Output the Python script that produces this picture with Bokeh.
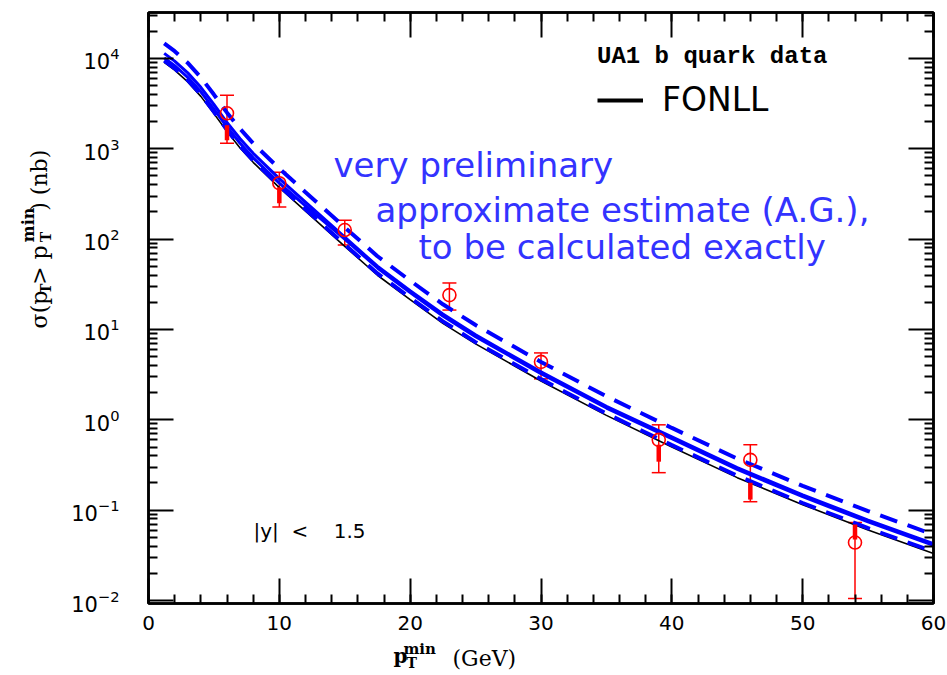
import math
from bokeh.plotting import figure
from bokeh.layouts import row, column
from bokeh.models import (LinearAxis, LogAxis, FixedTicker, SingleIntervalTicker, Range1d,
                          Whisker, TeeHead, ColumnDataSource, Label, CustomJSTickFormatter,
                          Legend, LegendItem)
from bokeh.embed import file_html
from bokeh.resources import INLINE

# ---------------- data ----------------
pt_grid = [1.2, 2, 3, 4, 5, 6, 7, 8, 10, 12, 15, 17.5, 20, 22.5, 25, 30, 35, 40, 45, 50, 55, 60]
fonll_central = [9040, 7410, 5500, 3800, 2450, 1550, 1020, 708, 372, 204, 83.2, 39.8, 21.4, 11.7,
                 6.92, 2.69, 1.12, 0.501, 0.229, 0.115, 0.0603, 0.0331]
blue_solid_a = [11380, 9330, 6920, 4790, 3090, 1950, 1290, 891, 468, 257, 105, 50.1, 26.9, 14.8,
                8.71, 3.39, 1.41, 0.646, 0.295, 0.148, 0.0776, 0.0427]
blue_solid_b = [10140, 8320, 6170, 4270, 2750, 1740, 1150, 794, 417, 234, 100, 47.9, 25.7, 14.1,
                8.32, 3.24, 1.35, 0.617, 0.282, 0.141, 0.0741, 0.0408]
blue_dash_up = [14660, 12020, 8910, 6170, 3980, 2510, 1660, 1150, 603, 331, 135, 64.6, 34.7, 19.0,
                11.2, 4.37, 1.82, 0.813, 0.372, 0.186, 0.0977, 0.0537]
blue_dash_lo = [9460, 7760, 5750, 3980, 2570, 1620, 1070, 741, 389, 214, 87.1, 41.7, 22.4, 12.3,
                7.24, 2.82, 1.17, 0.525, 0.240, 0.120, 0.0631, 0.0347]

data_pt = [6, 10, 15, 23, 30, 39, 46, 54]
data_sigma = [2470, 416, 126, 24.0, 4.38, 0.60, 0.36, 0.0438]
data_hi = [3900, 550, 162, 32.7, 5.5, 0.88, 0.53, 0.073]
data_lo = [1150, 226, 86, 16.4, 2.84, 0.26, 0.124, 0.0105]
thick_pt = [6, 10, 39, 46, 54]
thick_hi = [1820, 376, 0.530, 0.201, 0.0692]
thick_lo = [1240, 250, 0.344, 0.131, 0.0472]

y_major = [1e-2, 1e-1, 1e0, 1e1, 1e2, 1e3, 1e4]

# ---------------- layout (page pixels) ----------------
W, H = 947, 675
YT_W = 60            # strip on the left holding the y title
MAIN_H = 638         # main figure height; strip below holds the x title
FL, FR, FT, FB = 148, 933, 12, 603   # frame edges on the page
X0, X1 = 0, 60
LY0 = -2 - (FB - 600) / 90.5
LY1 = 4 + (58 - FT) / 90.5
Y0, Y1 = 10 ** LY0, 10 ** LY1


def dx(px):
    return X0 + (px - FL) * (X1 - X0) / (FR - FL)


def dy(py):
    return 10 ** (LY0 + (FB - py) * (LY1 - LY0) / (FB - FT))


p = figure(width=W - YT_W, height=MAIN_H, x_range=Range1d(X0, X1), y_range=Range1d(Y0, Y1),
           y_axis_type="log", output_backend="svg", toolbar_location=None,
           min_border_left=FL - YT_W, min_border_right=W - FR, min_border_top=FT,
           min_border_bottom=MAIN_H - FB)
p.xgrid.visible = False
p.ygrid.visible = False
p.outline_line_color = "black"
p.outline_line_width = 2.5
p.background_fill_color = "white"
p.border_fill_color = "white"

y_minor = [m * 10 ** e for e in range(-3, 5) for m in range(2, 10)]
xt = SingleIntervalTicker(interval=10, num_minor_ticks=5)
yt = FixedTicker(ticks=y_major, minor_ticks=y_minor)


def style_axis(ax):
    ax.major_tick_in = 25
    ax.major_tick_out = 0
    ax.minor_tick_in = 9
    ax.minor_tick_out = 0
    ax.major_tick_line_width = 2
    ax.minor_tick_line_width = 2
    ax.axis_line_width = 2.5
    ax.major_tick_line_color = "black"
    ax.minor_tick_line_color = "black"
    ax.axis_line_color = "black"


xa = p.xaxis[0]
xa.ticker = xt
style_axis(xa)
xa.major_label_text_font = "DejaVu Sans"
xa.major_label_text_font_size = "20px"
xa.major_label_text_color = "black"
xa.major_label_standoff = 12

ya = p.yaxis[0]
ya.ticker = yt
style_axis(ya)
ya.major_label_text_font = "DejaVu Sans"
ya.major_label_text_font_size = "21px"
ya.major_label_text_color = "black"
ya.major_label_standoff = 29

empty = CustomJSTickFormatter(code="return ''")
top = LinearAxis(ticker=xt, formatter=empty, major_label_text_font_size="0px",
                 major_label_standoff=0)
style_axis(top)
p.add_layout(top, "above")
right = LogAxis(ticker=yt, formatter=empty, major_label_text_font_size="0px",
                major_label_standoff=0)
style_axis(right)
p.add_layout(right, "right")

# ---------------- curves ----------------
dash = "18 11"
p.line(pt_grid, fonll_central, line_color="black", line_width=1.6)
p.line(pt_grid, blue_dash_lo, line_color="blue", line_width=4, line_dash=dash)
p.line(pt_grid, blue_dash_up, line_color="blue", line_width=4, line_dash=dash)
p.line(pt_grid, blue_solid_b, line_color="blue", line_width=3)
p.line(pt_grid, blue_solid_a, line_color="blue", line_width=3)

# ---------------- data points ----------------
src = ColumnDataSource(dict(x=data_pt, y=data_sigma, hi=data_hi, lo=data_lo))
wh = Whisker(source=src, base="x", upper="hi", lower="lo", line_color="red", line_width=1.5,
             upper_head=TeeHead(size=14, line_color="red", line_width=1.5),
             lower_head=TeeHead(size=14, line_color="red", line_width=1.5))
p.add_layout(wh)
p.segment(x0=thick_pt, y0=thick_lo, x1=thick_pt, y1=thick_hi, line_color="red", line_width=4.5)
p.scatter("x", "y", source=src, marker="circle", size=13, line_color="red",
          fill_color=None, line_width=1.6)

# ---------------- legend ----------------
legend_x = [-20, -10]
legend_y = [1, 1]
dummy = p.line(x=legend_x, y=legend_y, line_color="black", line_width=4)
legend = Legend(items=[LegendItem(label="FONLL", renderers=[dummy])],
                location=(597 - FL, FB - 119),
                title="UA1 b quark data", title_text_font="Liberation Mono",
                title_text_font_style="bold", title_text_font_size="24px",
                title_text_color="black", title_standoff=10,
                label_text_font="DejaVu Sans", label_text_font_size="33px",
                label_text_color="black",
                glyph_width=46, glyph_height=30, label_standoff=19, padding=0,
                spacing=0, margin=0, border_line_color=None, background_fill_alpha=0)
p.add_layout(legend)

# ---------------- texts inside the frame ----------------
blue_txt = "#3333ff"
for txt, px, py in [("very preliminary", 333, 164),
                    ("approximate estimate (A.G.),", 375, 209),
                    ("to be calculated exactly", 418, 246)]:
    p.add_layout(Label(x=dx(px), y=dy(py), text=txt, text_font="DejaVu Sans",
                       text_font_size="34px", text_color=blue_txt,
                       text_baseline="alphabetic", text_align="left"))

p.add_layout(Label(x=dx(253), y=dy(530), text="|y|\u00a0\u00a0<\u00a0\u00a0\u00a0\u00a01.5",
                   text_font="DejaVu Sans", text_font_size="20px", text_color="black",
                   text_baseline="alphabetic"))


# ---------------- title strips (data coordinates = pixels inside the strip) ----------------
def blank_fig(w, h):
    f = figure(width=w, height=h, x_range=Range1d(0, w), y_range=Range1d(h, 0),
               output_backend="svg", toolbar_location=None, x_axis_location=None,
               y_axis_location=None, min_border=0, min_border_left=0, min_border_right=0,
               min_border_top=0, min_border_bottom=0)
    f.xgrid.visible = False
    f.ygrid.visible = False
    f.outline_line_color = None
    f.background_fill_color = "white"
    f.border_fill_color = "white"
    return f


def add_text(f, text, x, y, size, style="normal", angle=0.0):
    f.add_layout(Label(x=x, y=y, text=text, angle=angle, text_font="DejaVu Serif",
                       text_font_style=style, text_font_size=size, text_color="black",
                       text_baseline="alphabetic", text_align="left"))


# x title strip spans the whole page width, below the main row
xfig = blank_fig(W, H - MAIN_H)
oy = MAIN_H + 6      # observed extra offset of the strip
add_text(xfig, "p", 393, 661 - oy, "20px", "bold")
add_text(xfig, "T", 406, 668 - oy, "14px", "bold")
add_text(xfig, "min", 403, 654 - oy, "15px", "bold")
add_text(xfig, "(GeV)", 452, 664 - oy, "22px")

# y title strip, left of the main figure
yfig = blank_fig(YT_W, MAIN_H)
ang = math.pi / 2
bx = 39
for txt, py, xoff, size, style in [("\u03c3(p", 341, 0, "22px", "normal"),
                                   ("T", 304, 6, "14px", "bold"),
                                   (" > p", 294, 0, "22px", "normal"),
                                   ("T", 248, 6, "14px", "bold"),
                                   ("min", 248, -11, "16px", "bold"),
                                   (") (nb)", 214, 0, "22px", "normal")]:
    add_text(yfig, txt, bx + xoff, py, size, style, ang)

layout = column(row(yfig, p, spacing=0), xfig, spacing=0)
open("out.html", "w").write(file_html(layout, INLINE))
